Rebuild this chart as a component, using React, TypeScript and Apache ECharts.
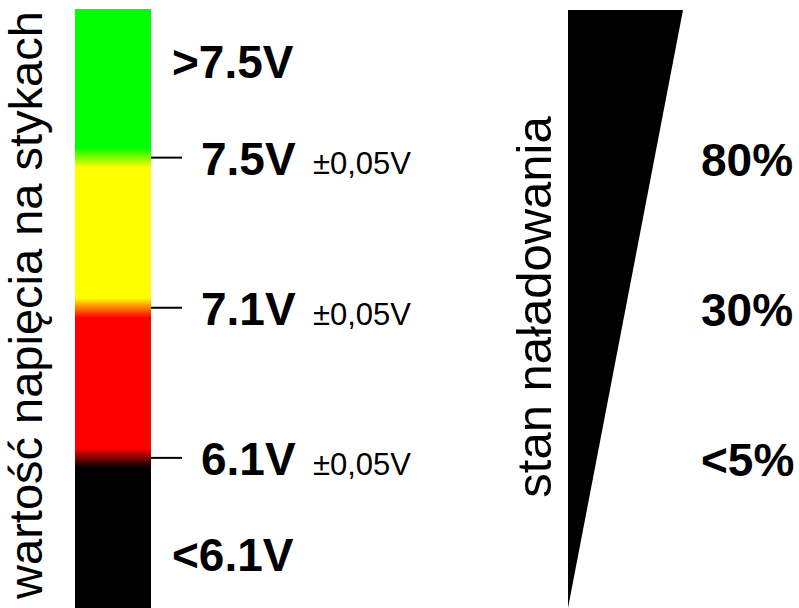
import React, { useEffect, useRef } from "react";
import * as echarts from "echarts";

// ---- data ----
const thresholdLabels = ["7.5V", "7.1V", "6.1V"];
const thresholdLevels = [1, 2, 3];
const toleranceLabel = "±0,05V";
const rangeLabels = [">7.5V", "<6.1V"];
const rangeLevels = [0.36, 3.65];
const chargeLabels = ["80%", "30%", "<5%"];
const zoneColors = ["#00ff00", "#ffff00", "#ff0000", "#000000"];
const leftTitle = "wartość napięcia na stykach";
const rightTitle = "stan naładowania";

// ---- layout ----
const W = 799;
const H = 608;
const FONT = "'Liberation Sans', Arial, Helvetica, sans-serif";
const BAR_X0 = 75;
const BAR_X1 = 151;
const BAR_TOP = 0.01;
const BAR_BOTTOM = 4;
const BAND = 0.065;
const TICK_X1 = 182;
const THR_X = 201;
const TOL_X = 313;
const RANGE_X = 172;
const CHARGE_X = 701;
const TRI_X0 = 568;
const TRI_X1 = 683;
const TRI_TOP = 0.017;
const TRI_BOTTOM = 4;
const BIG = 46;
const SMALL = 31;

function buildStops() {
  const span = BAR_BOTTOM - BAR_TOP;
  const stops: { offset: number; color: string }[] = [{ offset: 0, color: zoneColors[0] }];
  thresholdLevels.forEach((t, i) => {
    stops.push({ offset: (t - BAND - BAR_TOP) / span, color: zoneColors[i] });
    stops.push({ offset: (t + BAND - BAR_TOP) / span, color: zoneColors[i + 1] });
  });
  stops.push({ offset: 1, color: zoneColors[zoneColors.length - 1] });
  return stops;
}

export default function App() {
  const ref = useRef<HTMLDivElement>(null);
  useEffect(() => {
    if (!ref.current) return;
    const chart = echarts.init(ref.current, undefined, { renderer: "svg" });
    const gradient = new echarts.graphic.LinearGradient(0, 0, 0, 1, buildStops());
    chart.setOption({
      animation: false,
      backgroundColor: "#ffffff",
      grid: { left: 0, right: 0, top: 7.5, bottom: -5.5, containLabel: false },
      xAxis: { type: "value", min: 0, max: W, show: false },
      yAxis: { type: "value", min: 0, max: 4, inverse: true, show: false },
      graphic: [
        {
          type: "text",
          x: 25,
          y: 305,
          rotation: Math.PI / 2,
          style: {
            text: leftTitle,
            fontSize: 47,
            fontFamily: FONT,
            fill: "#000",
            align: "center",
            verticalAlign: "middle",
          },
        },
        {
          type: "text",
          x: 534,
          y: 307,
          rotation: Math.PI / 2,
          style: {
            text: rightTitle,
            fontSize: 49,
            fontFamily: FONT,
            fill: "#000",
            align: "center",
            verticalAlign: "middle",
          },
        },
      ],
      series: [
        {
          type: "custom",
          name: "voltage bar",
          silent: true,
          clip: false,
          data: [[BAR_TOP, BAR_BOTTOM]],
          renderItem: (params: any, api: any) => {
            const p0 = api.coord([BAR_X0, api.value(0)]);
            const p1 = api.coord([BAR_X1, api.value(1)]);
            return {
              type: "rect",
              shape: { x: p0[0], y: p0[1], width: p1[0] - p0[0], height: p1[1] - p0[1] },
              style: { fill: gradient },
            };
          },
        },
        {
          type: "custom",
          name: "charge wedge",
          silent: true,
          clip: false,
          data: [[TRI_TOP, TRI_BOTTOM]],
          renderItem: (params: any, api: any) => {
            const a = api.coord([TRI_X0, api.value(0)]);
            const b = api.coord([TRI_X1, api.value(0)]);
            const c = api.coord([TRI_X0, api.value(1)]);
            return {
              type: "polygon",
              shape: { points: [a, b, c] },
              style: { fill: "#000" },
            };
          },
        },
        {
          type: "custom",
          name: "thresholds",
          silent: true,
          clip: false,
          data: thresholdLevels.map((lvl, i) => [lvl, i]),
          renderItem: (params: any, api: any) => {
            const lvl = api.value(0);
            const i = params.dataIndex;
            const t0 = api.coord([BAR_X1, lvl]);
            const t1 = api.coord([TICK_X1, lvl]);
            const y = t0[1];
            return {
              type: "group",
              children: [
                {
                  type: "line",
                  shape: { x1: t0[0], y1: y, x2: t1[0], y2: y },
                  style: { stroke: "#000", lineWidth: 2 },
                },
                {
                  type: "text",
                  x: api.coord([THR_X, lvl])[0],
                  y: y + 1,
                  style: {
                    text: thresholdLabels[i],
                    fontSize: BIG,
                    fontWeight: "bold",
                    fontFamily: FONT,
                    fill: "#000",
                    align: "left",
                    verticalAlign: "middle",
                  },
                },
                {
                  type: "text",
                  x: api.coord([TOL_X, lvl])[0],
                  y: y + 1 + 0.35 * BIG - 0.35 * SMALL,
                  style: {
                    text: toleranceLabel,
                    fontSize: SMALL,
                    fontFamily: FONT,
                    fill: "#000",
                    align: "left",
                    verticalAlign: "middle",
                  },
                },
                {
                  type: "text",
                  x: api.coord([CHARGE_X, lvl])[0],
                  y: y + 2,
                  style: {
                    text: chargeLabels[i],
                    fontSize: BIG,
                    fontWeight: "bold",
                    fontFamily: FONT,
                    fill: "#000",
                    align: "left",
                    verticalAlign: "middle",
                  },
                },
              ],
            };
          },
        },
        {
          type: "custom",
          name: "ranges",
          silent: true,
          clip: false,
          data: rangeLevels.map((lvl, i) => [lvl, i]),
          renderItem: (params: any, api: any) => {
            const p = api.coord([RANGE_X, api.value(0)]);
            return {
              type: "text",
              x: p[0],
              y: p[1],
              style: {
                text: rangeLabels[params.dataIndex],
                fontSize: BIG,
                fontWeight: "bold",
                fontFamily: FONT,
                fill: "#000",
                align: "left",
                verticalAlign: "middle",
              },
            };
          },
        },
      ],
    });
    return () => chart.dispose();
  }, []);
  return (
    <div
      ref={ref}
      style={{ position: "fixed", left: 0, top: 0, width: W, height: H, background: "#fff" }}
    />
  );
}
